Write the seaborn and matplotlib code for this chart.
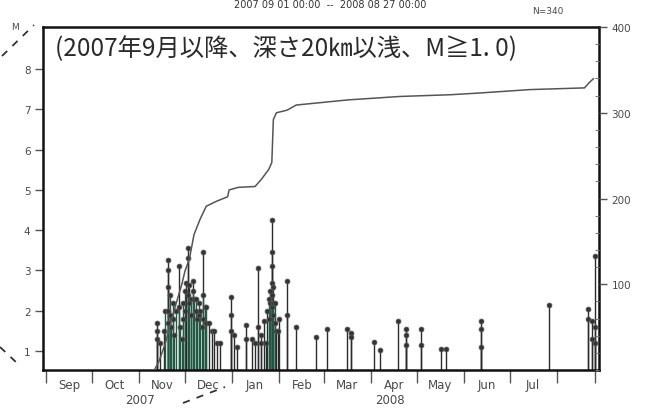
import matplotlib
matplotlib.use("Agg")
import matplotlib.pyplot as plt
import matplotlib.dates as mdates
from matplotlib.lines import Line2D
from matplotlib.ticker import MultipleLocator, FixedLocator
import numpy as np
import pandas as pd
import seaborn as sns

# events (date, magnitude)
event_dates = [
    "2007-11-13", "2007-11-13", "2007-11-13", "2007-11-15", "2007-11-17", "2007-11-18",
    "2007-11-20", "2007-11-20", "2007-11-20", "2007-11-20", "2007-11-20",
    "2007-11-21", "2007-11-21", "2007-11-22", "2007-11-23", "2007-11-23", "2007-11-24",
    "2007-11-25", "2007-11-27", "2007-11-27", "2007-11-28", "2007-11-29",
    "2007-11-30", "2007-11-30", "2007-12-01", "2007-12-01", "2007-12-02",
    "2007-12-03", "2007-12-03", "2007-12-03", "2007-12-04", "2007-12-04",
    "2007-12-05", "2007-12-05", "2007-12-06", "2007-12-06", "2007-12-07",
    "2007-12-08", "2007-12-08", "2007-12-09", "2007-12-10", "2007-12-10",
    "2007-12-11", "2007-12-12", "2007-12-13", "2007-12-13", "2007-12-13",
    "2007-12-14", "2007-12-15", "2007-12-15", "2007-12-17", "2007-12-19",
    "2007-12-20", "2007-12-22", "2007-12-24", "2007-12-31", "2007-12-31",
    "2007-12-31", "2008-01-02", "2008-01-04",
    "2008-01-10", "2008-01-10", "2008-01-14", "2008-01-16", "2008-01-18", "2008-01-18",
    "2008-01-20", "2008-01-20", "2008-01-22", "2008-01-23", "2008-01-24",
    "2008-01-25", "2008-01-25", "2008-01-26", "2008-01-26",
    "2008-01-27", "2008-01-27", "2008-01-27", "2008-01-27", "2008-01-27", "2008-01-27",
    "2008-01-28", "2008-01-28", "2008-01-28", "2008-01-29", "2008-01-29",
    "2008-01-30", "2008-01-31", "2008-02-01", "2008-02-06", "2008-02-06",
    "2008-02-12", "2008-02-25", "2008-03-03", "2008-03-16", "2008-03-19", "2008-03-19",
    "2008-04-03", "2008-04-07", "2008-04-19", "2008-04-24", "2008-04-24", "2008-04-24",
    "2008-05-04", "2008-05-04", "2008-05-17", "2008-05-20",
    "2008-06-12", "2008-06-12", "2008-06-12", "2008-07-27",
    "2008-08-21", "2008-08-21", "2008-08-24", "2008-08-24",
    "2008-08-26", "2008-08-26", "2008-08-26",
]
event_mags = [
    1.7, 1.5, 1.3, 1.2, 1.5, 2.0,
    3.25, 3.0, 2.6, 2.0, 1.7,
    2.4, 1.9, 1.6, 2.2, 1.8, 1.4,
    2.0, 3.1, 2.1, 1.6, 1.3,
    2.2, 1.8, 2.5, 2.0, 2.7,
    3.55, 3.3, 2.4, 2.65, 2.2,
    2.3, 1.9, 2.75, 2.5, 2.3,
    2.3, 2.0, 1.8, 2.2, 1.9,
    2.0, 1.6, 3.45, 2.4, 1.8,
    2.1, 2.1, 1.7, 1.7, 1.5,
    1.5, 1.2, 1.2, 2.35, 1.9,
    1.5, 1.4, 1.1,
    1.65, 1.3, 1.3, 1.2, 3.05, 1.6,
    1.4, 1.2, 1.75, 1.2, 2.0,
    2.3, 1.8, 2.5, 2.2,
    4.25, 3.45, 3.1, 2.7, 2.4, 2.1,
    2.6, 2.2, 1.9, 2.2, 1.7,
    1.5, 1.5, 1.8, 2.75, 1.9,
    1.6, 1.35, 1.55, 1.55, 1.45, 1.35,
    1.22, 1.02, 1.74, 1.55, 1.4, 1.15,
    1.55, 1.15, 1.05, 1.05,
    1.74, 1.55, 1.1, 2.15,
    2.05, 1.8, 1.74, 1.3,
    3.35, 1.6, 1.2,
]

# cumulative number curve (right axis)
cum_dates = [
    "2007-09-01", "2007-11-11", "2007-11-14", "2007-11-18", "2007-11-21", "2007-11-24",
    "2007-11-27", "2007-11-29", "2007-12-01", "2007-12-04", "2007-12-07",
    "2007-12-11", "2007-12-15", "2007-12-22", "2007-12-29", "2007-12-30",
    "2008-01-05", "2008-01-16", "2008-01-20", "2008-01-25", "2008-01-27",
    "2008-01-28", "2008-01-30", "2008-02-06", "2008-02-12", "2008-03-17",
    "2008-04-20", "2008-05-23", "2008-06-11", "2008-07-14", "2008-08-19",
    "2008-08-22", "2008-08-25",
]
cum_counts = [
    0, 0, 10, 30, 50, 70,
    88, 100, 115, 130, 158,
    176, 191, 197, 202, 210,
    213, 214, 222, 234, 242,
    292, 300, 303, 309, 315,
    319, 321, 323, 327, 329,
    335, 340,
]

month_labels = ["Sep", "Oct", "Nov", "Dec", "Jan", "Feb", "Mar", "Apr", "May", "Jun", "Jul"]
header = "(2007年9月以降、深さ20㎞以浅、M≧1. 0)"
period = "2007 09 01 00:00  --  2008 08 27 00:00"

sns.set_theme(style="white")
plt.rcParams["font.family"] = ["DejaVu Sans", "Noto Sans CJK JP"]

ink = "#2b2b2b"
green = "#1f5a45"

df = pd.DataFrame({"date": pd.to_datetime(event_dates), "M": event_mags})
cum = pd.DataFrame({"date": pd.to_datetime(cum_dates), "n": cum_counts})

fig = plt.figure(figsize=(6.45, 4.10), dpi=100)
ax = fig.add_axes([0.0667, 0.0951, 0.862, 0.8366])

ymin = 0.53
# dense swarm looks greenish on the scan
dense = (((df["date"] >= "2007-11-18") & (df["date"] <= "2007-12-16")) |
         ((df["date"] >= "2008-01-25") & (df["date"] <= "2008-01-29"))) & (df["M"] < 2.6)
cols = np.where(dense, green, ink)
ax.vlines(df["date"], ymin, df["M"], colors=cols, lw=1.0, zorder=2)
sns.scatterplot(data=df, x="date", y="M", ax=ax, s=12, color="#333333",
                edgecolor="#555555", linewidth=0.6, zorder=3, legend=False)

ax.set_ylim(ymin, 9.04)
ax.set_xlim(pd.Timestamp("2007-08-30"), pd.Timestamp("2008-08-28 12:00"))
ax.set_yticks(range(1, 9))
ax.set_xlabel("")
ax.set_ylabel("")

# month ticks and centred labels
starts = pd.date_range("2007-09-01", "2008-08-01", freq="MS")
ax.xaxis.set_major_locator(FixedLocator(list(mdates.date2num(starts)) + [mdates.date2num(pd.Timestamp("2008-08-26"))]))
ax.xaxis.set_major_formatter(plt.NullFormatter())
mids = starts[:len(month_labels)] + pd.Timedelta(days=15)
ax.xaxis.set_minor_locator(FixedLocator(mdates.date2num(mids)))
ax.xaxis.set_minor_formatter(plt.FixedFormatter(month_labels))
ax.tick_params(axis="x", which="major", direction="out", length=9, width=1.0, color="#555555", bottom=True)
ax.tick_params(axis="x", which="minor", length=0, pad=6, labelsize=8.5, labelcolor="#4a4a4a", bottom=True)
ax.tick_params(axis="y", which="major", direction="out", length=6, width=1.0, color="#555555",
               labelsize=7.5, labelcolor="#4a4a4a", left=True, pad=3)

for s in ax.spines.values():
    s.set_color("#111111")
    s.set_linewidth(1.8)

ax2 = ax.twinx()
sns.lineplot(data=cum, x="date", y="n", ax=ax2, color="#555555", lw=1.1, sort=False)
ax2.set_ylim(0, 400)
ax2.set_yticks([100, 200, 300, 400])
ax2.yaxis.set_minor_locator(MultipleLocator(20))
ax2.tick_params(axis="y", which="major", direction="out", length=6, width=1.0, color="#555555",
                labelsize=7.5, labelcolor="#4a4a4a", right=True, pad=3)
ax2.tick_params(axis="y", which="minor", direction="in", length=3, width=0.8, color="#777777", right=True)
ax2.set_ylabel("")
ax2.set_xlabel("")
for s in ax2.spines.values():
    s.set_visible(False)

ax.text(0.022, 0.94, header, transform=ax.transAxes, ha="left", va="center",
        fontsize=17.5, color="#2a2a2a", family=["Noto Sans CJK JP", "DejaVu Sans"], zorder=5)

fig.text(140 / 645, 1 - 401 / 410, "2007", ha="center", va="center", fontsize=8.5, color="#4a4a4a")
fig.text(390 / 645, 1 - 401 / 410, "2008", ha="center", va="center", fontsize=8.5, color="#4a4a4a")
fig.text(15 / 645, 1 - 28 / 410, "M", ha="center", va="center", fontsize=6.5, color="#4a4a4a")
fig.text(548 / 645, 1 - 11 / 410, "N=340", ha="center", va="center", fontsize=6.5, color="#4a4a4a")
fig.text(330 / 645, 1 - 5 / 410, period, ha="center", va="center", fontsize=7, color="#333333")

# pen marks from the scanned page
for (x0, y0, x1, y1) in [(2, 57, 34, 26), (0, 348, 18, 365), (183, 404, 225, 388)]:
    fig.add_artist(Line2D([x0 / 645, x1 / 645], [1 - y0 / 410, 1 - y1 / 410], transform=fig.transFigure,
                          color="#333333", lw=1.3, ls=(0, (4, 4))))

fig.savefig("out.png", dpi=100)
